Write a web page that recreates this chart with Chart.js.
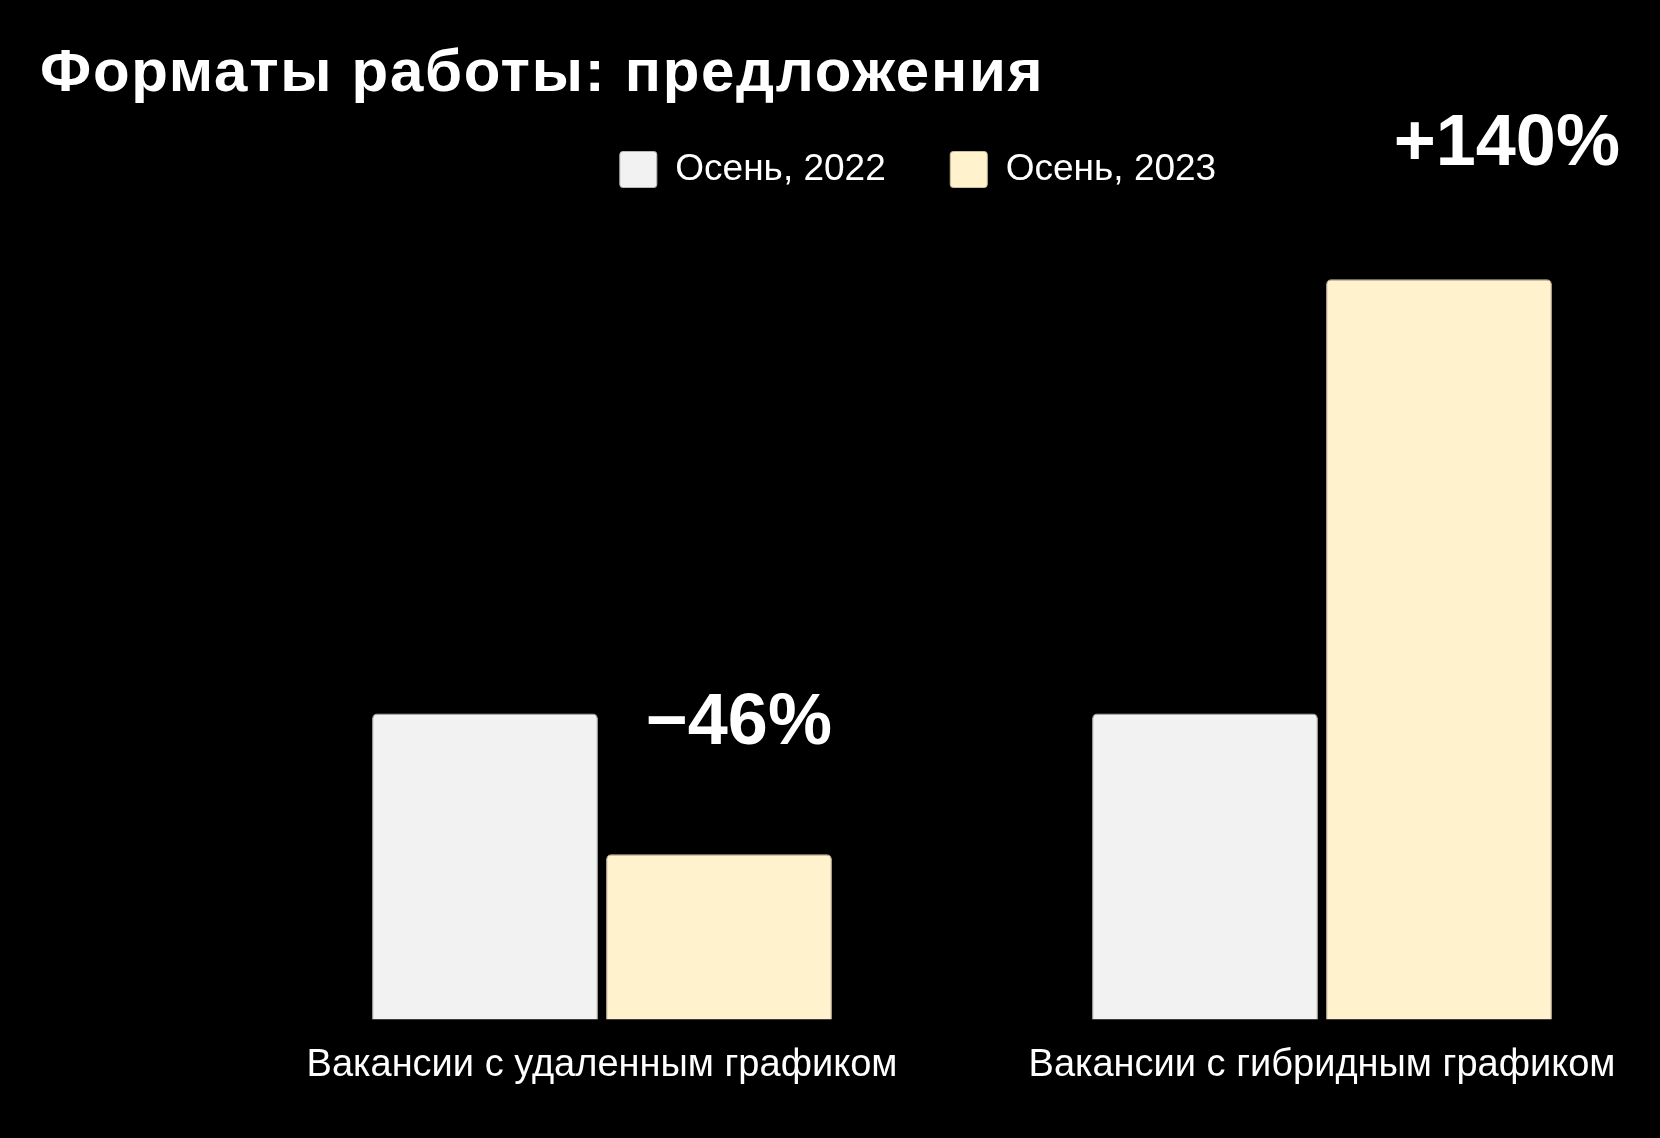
<!DOCTYPE html>
<html>
<head>
<meta charset="utf-8">
<script src="https://cdn.jsdelivr.net/npm/chart.js@4"></script>
<style>
  html, body { margin: 0; padding: 0; background: #000; }
  #wrap { position: relative; width: 1660px; height: 1138px; }
  #title {
    position: absolute; left: 40px; top: 41px;
    font: bold 60px/60px "Liberation Sans", Arial, sans-serif;
    letter-spacing: 1.7px;
    color: #fff; white-space: nowrap;
  }
  canvas { position: absolute; left: 0; top: 0; }
</style>
</head>
<body>
<div id="wrap">
  <canvas id="chart" width="1660" height="1138"></canvas>
  <div id="title">Форматы работы: предложения</div>
</div>
<script>
const categories = ["Вакансии с удаленным графиком", "Вакансии с гибридным графиком"];
const seriesNames = ["Осень, 2022", "Осень, 2023"];
const autumn2022 = [100, 100];
const autumn2023 = [54, 242];
const changeLabels = ["−46%", "+140%"];

const FONT = '"Liberation Sans", Arial, sans-serif';

// big percentage labels above the 2023 bars
const changePlugin = {
  id: "changeLabels",
  afterDatasetsDraw(chart) {
    const ctx = chart.ctx;
    const meta = chart.getDatasetMeta(1);
    const dx = [0, 68];
    const lift = [110, 114];
    ctx.save();
    ctx.fillStyle = "#fff";
    ctx.font = "bold 72px " + FONT;
    ctx.textAlign = "right";
    ctx.textBaseline = "alphabetic";
    meta.data.forEach((bar, i) => {
      ctx.fillText(changeLabels[i], bar.x + bar.width / 2 + dx[i], bar.y - lift[i]);
    });
    ctx.restore();
  },
};

new Chart(document.getElementById("chart"), {
  type: "bar",
  data: {
    labels: categories,
    datasets: [
      {
        label: seriesNames[0],
        data: autumn2022,
        backgroundColor: "#f2f2f2",
        borderColor: "#b8b8b8",
        borderWidth: 1,
        borderRadius: 5,
        borderSkipped: "bottom",
        clip: false,
      },
      {
        label: seriesNames[1],
        data: autumn2023,
        backgroundColor: "#fff2cc",
        borderColor: "#c9bfa0",
        borderWidth: 1,
        borderRadius: 5,
        borderSkipped: "bottom",
        clip: false,
      },
    ],
  },
  options: {
    responsive: false,
    animation: false,
    categoryPercentage: 0.65,
    barPercentage: 0.965,
    layout: { padding: { left: 176, right: 0, top: 86.5, bottom: 27 } },
    plugins: {
      legend: {
        position: "top",
        labels: {
          color: "#fff",
          font: { family: FONT, size: 37 },
          boxWidth: 37,
          boxHeight: 36,
          padding: 64.5,
          useBorderRadius: true,
          borderRadius: 3,
        },
      },
      tooltip: { enabled: false },
    },
    scales: {
      x: {
        offset: false,
        grid: { display: false, drawTicks: false },
        border: { display: false },
        ticks: {
          color: "#fff",
          font: { family: FONT, size: 38 },
          padding: 23,
          maxRotation: 0,
          autoSkip: false,
        },
      },
      y: {
        min: 0,
        max: 268.6,
        grid: { display: false, drawTicks: false },
        border: { display: false },
        ticks: { display: false },
        afterFit(scale) { scale.width = 426; },
      },
      yr: {
        position: "right",
        min: 0,
        max: 1,
        grid: { display: false, drawTicks: false },
        border: { display: false },
        ticks: { display: false },
        afterFit(scale) { scale.width = 338; },
      },
    },
  },
  plugins: [changePlugin, {
    id: "bg",
    beforeDraw(chart) {
      const ctx = chart.ctx;
      ctx.save();
      ctx.fillStyle = "#000";
      ctx.fillRect(0, 0, chart.width, chart.height);
      ctx.restore();
    },
  }],
});
</script>
</body>
</html>
